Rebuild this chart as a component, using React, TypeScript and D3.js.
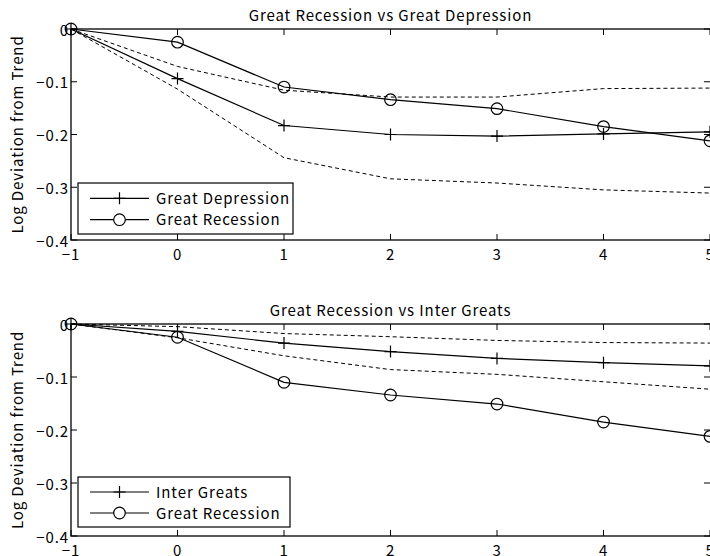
import React from "react";
import * as d3 from "d3";

const years = [-1, 0, 1, 2, 3, 4, 5];
const xTicks = [-1, 0, 1, 2, 3, 4, 5];
const yTicks = [0, -0.1, -0.2, -0.3, -0.4];
const yTickLabels = ["0", "\u22120.1", "\u22120.2", "\u22120.3", "\u22120.4"];
const xTickLabels = ["\u22121", "0", "1", "2", "3", "4", "5"];

const greatRecession = [0, -0.025, -0.11, -0.134, -0.151, -0.185, -0.212];
const greatDepression = [0, -0.094, -0.183, -0.2, -0.203, -0.199, -0.195];
const depressionUpper = [0, -0.071, -0.116, -0.129, -0.129, -0.113, -0.112];
const depressionLower = [0, -0.114, -0.244, -0.284, -0.292, -0.305, -0.311];

const interGreats = [0, -0.014, -0.036, -0.052, -0.065, -0.073, -0.079];
const interUpper = [0, -0.005, -0.018, -0.024, -0.031, -0.035, -0.036];
const interLower = [0, -0.026, -0.06, -0.086, -0.095, -0.109, -0.123];

const titles = ["Great Recession vs Great Depression", "Great Recession vs Inter Greats"];
const yLabel = "Log Deviation from Trend";

const FONT = "'Noto Sans CJK JP', 'DejaVu Sans', sans-serif";
const FS = 15;
const LS = 0.9;

type PanelProps = {
  top: number;
  bottom: number;
  title: string;
  plusSeries: number[];
  upper: number[];
  lower: number[];
  plusName: string;
  legendBox: { x: number; y: number; w: number; h: number };
};

function Panel({ top, bottom, title, plusSeries, upper, lower, plusName, legendBox }: PanelProps) {
  const left = 71;
  const right = 710;
  const x = d3.scaleLinear().domain([-1, 5]).range([left, right]);
  const y = d3.scaleLinear().domain([-0.4, 0]).range([bottom, top]);
  const line = d3
    .line<number>()
    .x((_, i) => x(years[i]))
    .y((d) => y(d));
  const tl = 6;
  const ms = 6;
  const row1 = legendBox.y + legendBox.h * 0.3;
  const row2 = legendBox.y + legendBox.h * 0.72;
  const lx1 = legendBox.x + 12;
  const lx2 = legendBox.x + 71;
  const lmx = (lx1 + lx2) / 2;
  const txt = { fontSize: FS, fontFamily: FONT, letterSpacing: LS };
  return (
    <g>
      <text x={(left + right) / 2} y={top - 8} textAnchor="middle" {...txt}>
        {title}
      </text>
      {xTicks.map((t) => (
        <g key={"xt" + t}>
          <line x1={x(t)} x2={x(t)} y1={bottom} y2={bottom - tl} stroke="#000" />
          <line x1={x(t)} x2={x(t)} y1={top} y2={top + tl} stroke="#000" />
        </g>
      ))}
      {yTicks.map((t) => (
        <g key={"yt" + t}>
          <line x1={left} x2={left + tl} y1={y(t)} y2={y(t)} stroke="#000" />
          <line x1={right} x2={right - tl} y1={y(t)} y2={y(t)} stroke="#000" />
        </g>
      ))}
      <rect x={left} y={top} width={right - left + 1} height={bottom - top} fill="none" stroke="#000" strokeWidth={1.3} />
      {xTicks.map((t, i) => (
        <text key={"xl" + t} x={x(t)} y={bottom + 20} textAnchor="middle" {...txt}>
          {xTickLabels[i]}
        </text>
      ))}
      {yTicks.map((t, i) => (
        <text key={"yl" + t} x={left - 2} y={y(t) + 6.5} textAnchor="end" {...txt}>
          {yTickLabels[i]}
        </text>
      ))}
      <text transform={`translate(${23},${(top + bottom) / 2}) rotate(-90)`} textAnchor="middle" {...txt}>
        {yLabel}
      </text>
      <path d={line(upper) || ""} fill="none" stroke="#000" strokeWidth={1} strokeDasharray="4,3" />
      <path d={line(lower) || ""} fill="none" stroke="#000" strokeWidth={1} strokeDasharray="4,3" />
      <path d={line(plusSeries) || ""} fill="none" stroke="#000" strokeWidth={1.2} />
      {plusSeries.map((v, i) => (
        <path
          key={"p" + i}
          d={`M${x(years[i]) - ms},${y(v)}H${x(years[i]) + ms}M${x(years[i])},${y(v) - ms}V${y(v) + ms}`}
          stroke="#000"
          strokeWidth={1.2}
        />
      ))}
      <path d={line(greatRecession) || ""} fill="none" stroke="#000" strokeWidth={1.2} />
      {greatRecession.map((v, i) => (
        <circle key={"c" + i} cx={x(years[i])} cy={y(v)} r={5.8} fill="none" stroke="#000" strokeWidth={1.2} />
      ))}
      <rect x={legendBox.x} y={legendBox.y} width={legendBox.w} height={legendBox.h} fill="#fff" stroke="#000" strokeWidth={1.2} />
      <line x1={lx1} x2={lx2} y1={row1} y2={row1} stroke="#000" strokeWidth={1.2} />
      <path d={`M${lmx - ms},${row1}H${lmx + ms}M${lmx},${row1 - ms}V${row1 + ms}`} stroke="#000" strokeWidth={1.2} />
      <text x={legendBox.x + 78} y={row1 + 5.5} {...txt}>
        {plusName}
      </text>
      <line x1={lx1} x2={lx2} y1={row2} y2={row2} stroke="#000" strokeWidth={1.2} />
      <circle cx={lmx} cy={row2} r={5.8} fill="#fff" stroke="#000" strokeWidth={1.2} />
      <text x={legendBox.x + 78} y={row2 + 5.5} {...txt}>
        Great Recession
      </text>
    </g>
  );
}

export default function App() {
  return (
    <svg width={710} height={556} style={{ position: "absolute", left: 0, top: 0, background: "#fff" }}>
      <rect width={710} height={556} fill="#fff" />
      <Panel
        top={29}
        bottom={240}
        title={titles[0]}
        plusSeries={greatDepression}
        upper={depressionUpper}
        lower={depressionLower}
        plusName="Great Depression"
        legendBox={{ x: 78, y: 183, w: 215, h: 51 }}
      />
      <Panel
        top={324}
        bottom={536}
        title={titles[1]}
        plusSeries={interGreats}
        upper={interUpper}
        lower={interLower}
        plusName="Inter Greats"
        legendBox={{ x: 78, y: 477, w: 212, h: 50 }}
      />
    </svg>
  );
}
